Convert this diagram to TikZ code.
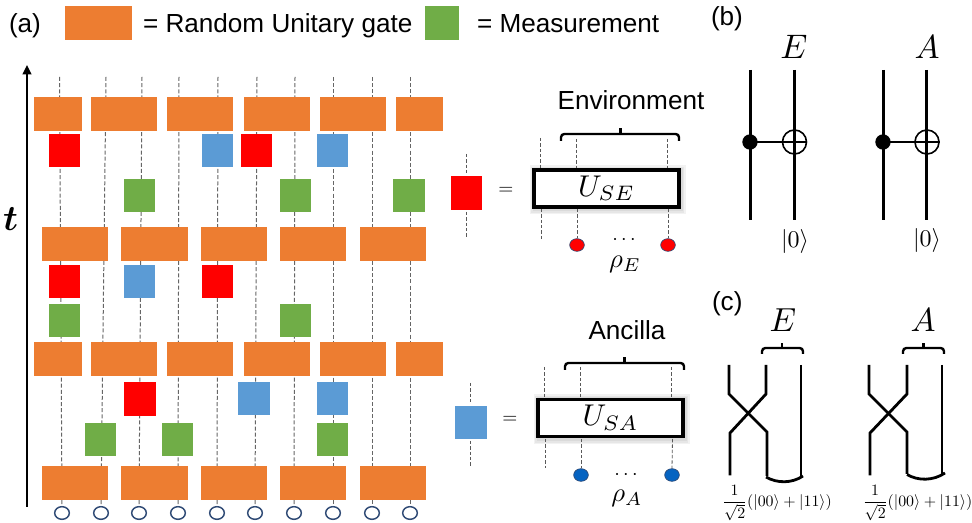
\documentclass[tikz,border=0pt]{standalone}
\usepackage{graphicx}
\usepackage{fontspec}
\setmainfont{Liberation Sans}
\definecolor{gateorange}{HTML}{ED7D31}
\definecolor{measgreen}{HTML}{70AD47}
\definecolor{anblue}{HTML}{5B9BD5}
\definecolor{qring}{HTML}{2F4A75}
\definecolor{rhoblue}{HTML}{0563C1}
\newcommand{\sz}[1]{\fontsize{#1}{#1}\selectfont}
\newcommand{\mth}[2]{\scalebox{#1}{#2}}
\usetikzlibrary{shapes.geometric,arrows.meta}
\tikzset{
  px/.style={x=0.75pt,y=-0.75pt},
  wire/.style={draw=black!60,line width=0.75pt,dash pattern=on 3pt off 1.6pt},
  thinwire/.style={draw=black!65,line width=0.6pt,dash pattern=on 2.6pt off 1.4pt},
  label/.style={inner sep=0pt,outer sep=0pt,font=\sz{19.6}},
  mathlabel/.style={inner sep=0pt,outer sep=0pt},
  qubit/.style={draw=qring,fill=white,line width=1.1pt,ellipse,inner sep=0pt,minimum width=11pt,minimum height=9.5pt},
  rhodot/.style={draw=qring,line width=0.5pt,ellipse,inner sep=0pt,minimum width=11pt,minimum height=9.5pt},
  solidwire/.style={draw=black,line width=2.2pt},
  cwire/.style={draw=black,line width=2.1pt},
  bracewire/.style={draw=black,line width=1.8pt,rounded corners=2.5pt},
  ubox/.style={draw=black,fill=white,line width=2.7pt,inner sep=0pt},
  target/.style={draw=black,line width=1.2pt,circle,inner sep=0pt,minimum size=18pt},
  control/.style={fill=black,circle,inner sep=0pt,minimum size=11.5pt},
}
\begin{document}
\begin{tikzpicture}[px]
\useasboundingbox (0,0) rectangle (972,523);
% qubit dots and the worldlines above them
\foreach \i/\xb/\xt in {1/62/59.5,2/101/106,3/139/142,4/178/179,5/217/218,6/255/257,7/294/295,8/333/333,9/372/372,10/410/410}{
  \node[qubit] (q\i) at (\xb,513) {};
  \coordinate (top\i) at (\xt,77);
  \draw[wire] (top\i) -- (q\i.north);
}
% time axis
\coordinate (tbot) at (27,507);
\coordinate (ttop) at (27,65);
\draw[line width=1.5pt,-{Triangle[length=7pt,width=6.5pt]}] (tbot) -- (ttop);
\node[mathlabel] (tlabel) at (10.5,219) {\mth{2.7}{\boldmath$t$}};
% legend
\fill[gateorange] (65,6) rectangle (132,40);
\node[label,anchor=base west] (leg1) at (143,33) {= Random Unitary gate};
\fill[measgreen] (425,6) rectangle (459,40);
\node[label,anchor=base west] (leg2) at (477,33) {= Measurement};
\node[label,anchor=base west] (pa) at (9,33) {(a)};
% unitary layers
\foreach \y in {97,342}{
  \foreach \a/\b in {34/82,91/157,167/233,244/310,320/386,396/443}
    \fill[gateorange] (\a,\y) rectangle (\b,\y+34);
}
\foreach \y in {227,466}{
  \foreach \a/\b in {42/108,121/188,201/267,280/346,360/426}
    \fill[gateorange] (\a,\y) rectangle (\b,\y+34);
}
% site operations
\foreach \a/\y in {49/134,241/134,49/265,202/265}
  \fill[red] (\a,\y) rectangle (\a+31,\y+33.5);
\fill[red] (124,382) rectangle (156,416);
\foreach \a/\y in {202/134,317/134,124/265,317/382}
  \fill[anblue] (\a,\y) rectangle (\a+31,\y+33.5);
\fill[anblue] (238,382) rectangle (270,415);
\foreach \a/\y in {124/179,280/179,49/304,280/304,85/423,162/423,317/423}
  \fill[measgreen] (\a,\y) rectangle (\a+31,\y+33);
\fill[measgreen] (393,179) rectangle (425,212);
% definition of the red gate
\fill[red] (451,176) rectangle (482,210);
\draw[thinwire] (466.5,154) -- (466.5,173);
\draw[thinwire] (466.5,212) -- (466.5,237);
\node[mathlabel] (eq1) at (506,191) {\mth{1.45}{$=$}};
\foreach \k in {1,2,3}
  \fill[black,opacity=0.05] (534-\k*1.5,170-\k*1.5) rectangle (681+\k*1.5,210+\k*1.5);
\node[ubox,minimum width=108.5pt,minimum height=27.5pt] (use) at (606.5,188.5) {\mth{2.25}{$U_{SE}$}};
\node[rhodot,fill=red] (re1) at (577,245) {};
\node[rhodot,fill=red] (re2) at (668,245) {};
\draw[thinwire] (540,138) -- (540,168);
\draw[thinwire] (541.5,209) -- (541.5,239);
\draw[thinwire] (576,139) -- (576,168);
\draw[thinwire] (577,209) -- (re1.north);
\draw[thinwire] (667.5,139) -- (667.5,168);
\draw[thinwire] (668,209) -- (re2.north);
\node[mathlabel] (dots1) at (624,240) {\mth{1.5}{$\cdots$}};
\node[mathlabel] (rhoe) at (625,264) {\mth{2}{$\rho_E$}};
\draw[bracewire] (561,141) -- (561,134) -- (679,134) -- (679,141);
\draw[line width=1.8pt] (620.5,134) -- (620.5,128.5);
\node[label] (envl) at (631,100) {Environment};
% definition of the blue gate
\fill[anblue] (455,406) rectangle (487,439);
\draw[thinwire] (470,383) -- (470,404);
\draw[thinwire] (470,441) -- (470,466);
\node[mathlabel] (eq2) at (510,420) {\mth{1.45}{$=$}};
\foreach \k in {1,2,3}
  \fill[black,opacity=0.05] (538-\k*1.5,399-\k*1.5) rectangle (685+\k*1.5,440+\k*1.5);
\node[ubox,minimum width=108.5pt,minimum height=28pt] (usa) at (610.5,418) {\mth{2.25}{$U_{SA}$}};
\node[rhodot,fill=rhoblue] (ra1) at (581,475) {};
\node[rhodot,fill=rhoblue] (ra2) at (672,475) {};
\draw[thinwire] (544,367) -- (544,397);
\draw[thinwire] (545.5,439) -- (545.5,468);
\draw[thinwire] (580,367) -- (580,397);
\draw[thinwire] (581,439) -- (ra1.north);
\draw[thinwire] (671,367) -- (671,397);
\draw[thinwire] (672.5,439) -- (ra2.north);
\node[mathlabel] (dots2) at (626,475) {\mth{1.5}{$\cdots$}};
\node[mathlabel] (rhoa) at (627,498) {\mth{2}{$\rho_A$}};
\draw[bracewire] (565,370) -- (565,363) -- (684,363) -- (684,370);
\draw[line width=1.8pt] (624.5,363) -- (624.5,357.5);
\node[label] (ancl) at (627,330) {Ancilla};
% panel (b)
\node[label,anchor=base west] (pb) at (711,26) {(b)};
\node[mathlabel] (be) at (794,47) {\mth{2.55}{$E$}};
\node[mathlabel] (ba) at (927,47) {\mth{2.5}{$A$}};
\node[target] (tg1) at (794.5,142) {};
\node[target] (tg2) at (927,142) {};
\node[control] (ct1) at (750,142) {};
\node[control] (ct2) at (883,142) {};
\draw[solidwire] (750.5,70) -- (750.5,220);
\draw[solidwire] (794.5,70) -- (794.5,220);
\draw[solidwire] (883.3,70) -- (883.3,220);
\draw[solidwire] (926.5,70) -- (926.5,220);
\draw[line width=2.2pt] (ct1.center) -- (tg1.west);
\draw[line width=2.2pt] (ct2.center) -- (tg2.west);
\draw[line width=1.1pt] (tg1.west) -- (tg1.east);
\draw[line width=1.1pt] (tg2.west) -- (tg2.east);
\node[mathlabel] (k1) at (795,242) {\mth{1.8}{$|0\rangle$}};
\node[mathlabel] (k2) at (927,241) {\mth{1.8}{$|0\rangle$}};
% panel (c)
\node[label,anchor=base west] (pc) at (712,311) {(c)};
\node[mathlabel] (ce) at (783,320) {\mth{2.5}{$E$}};
\node[mathlabel] (ca) at (923,320) {\mth{2.5}{$A$}};
\draw[bracewire] (762,354) -- (762,348) -- (803,348) -- (803,354);
\draw[line width=1.6pt] (782,348) -- (782,343);
\draw[bracewire] (903,354) -- (903,348) -- (944,348) -- (944,354);
\draw[line width=1.6pt] (923.5,348) -- (923.5,343);
\draw[cwire] (729,365) -- (729,394) -- (767,432) -- (767,476);
\draw[cwire] (766,365) -- (766,394) -- (730,433) -- (730,475.5);
\draw[cwire] (801,365) -- (801,476);
\draw[cwire] (766,477) .. controls (777,483.5) and (792,483.5) .. (803,476);
\draw[cwire] (869,365) -- (869,394) -- (907,432) -- (907,474);
\draw[cwire] (907,365) -- (907,394) -- (870,433) -- (870,475.5);
\draw[cwire] (942,365) -- (942,474);
\draw[cwire] (907,474.5) .. controls (918,481) and (933,481) .. (945,473);
\node[mathlabel] (f1) at (777,503) {\mth{1.19}{$\displaystyle\frac{1}{\sqrt{2}}(|00\rangle+|11\rangle)$}};
\node[mathlabel] (f2) at (917.5,503) {\mth{1.19}{$\displaystyle\frac{1}{\sqrt{2}}(|00\rangle+|11\rangle)$}};
\end{tikzpicture}
\end{document}
